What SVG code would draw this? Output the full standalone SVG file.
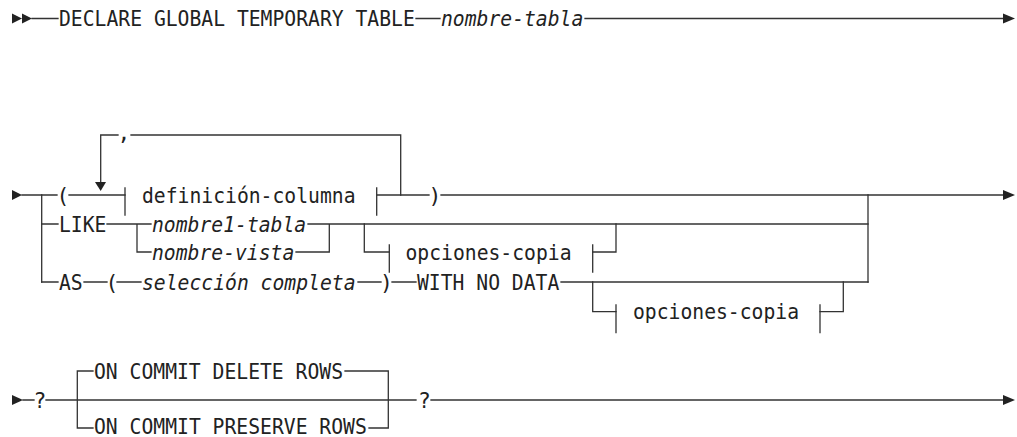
<svg xmlns="http://www.w3.org/2000/svg" width="1017" height="437" viewBox="0 0 1017 437">
<style>
text{font-family:"DejaVu Sans Mono","Liberation Mono",monospace;font-size:21.3px;fill:#222}
.i{font-style:italic}
.c{text-anchor:middle}
.ln{stroke:#333;stroke-width:1.3;fill:none;stroke-linecap:square}
.ah{fill:#222}
</style>
<rect width="1017" height="437" fill="#fff"/>
<g id="connectors" class="ln">
<path d="M32 18.5H58M416 18.5H440M585 18.5H1003"/>
<path d="M22 195H57M69 195H125M377 195H429M441 195H1003"/>
<path d="M41.7 195V282M868 195V282"/>
<path d="M100.7 182V135H118M131 135H400.7V195"/>
<path d="M41.7 224H58M107 224H151M137 224V252H151M296 252H329.3V224M308 224H868"/>
<path d="M364.3 224V252H389.3M592.7 252H616V224"/>
<path d="M41.7 282H58M84 282H107M117 282H141M358 282H381M392 282H416M561 282H868"/>
<path d="M592.7 282V311.7H616M820 311.7H843.3V282"/>
<path d="M23 400H34M46 400H416M431 400H1003"/>
<path d="M77.3 371V428M77.3 371H93M77.3 428H93M345 371H388.3V428M369 428H388.3"/>
</g>
<g id="arrows" class="ah">
<path d="M12 13.5L22 18.5L12 23.5ZM22 13.5L32 18.5L22 23.5Z"/>
<path d="M1003 13.5L1015 18.5L1003 23.5Z"/>
<path d="M12 190L22 195L12 200Z"/>
<path d="M1003 190L1015 195L1003 200Z"/>
<path d="M95 182H106L100.7 191Z"/>
<path d="M12 395L23 400L12 405Z"/>
<path d="M1003 395L1015 400L1003 405Z"/>
</g>
<g id="n-declare"><text x="59" y="26" textLength="355.8" lengthAdjust="spacingAndGlyphs">DECLARE GLOBAL TEMPORARY TABLE</text></g>
<g id="n-nombre-tabla"><text class="i" x="441" y="26" textLength="142.3" lengthAdjust="spacingAndGlyphs">nombre-tabla</text></g>
<g id="n-lparen1"><text class="c" x="63" y="202.5">(</text></g>
<g id="n-defcol" class="ln">
<path d="M125 188V215M376.7 188V215"/>
<text x="142" y="202.5" textLength="213.5" lengthAdjust="spacingAndGlyphs" style="stroke:none">definición-columna</text>
</g>
<g id="n-comma"><text class="c" x="124" y="140">,</text></g>
<g id="n-rparen1"><text class="c" x="435" y="202.5">)</text></g>
<g id="n-like"><text x="59" y="231.5" textLength="47.4" lengthAdjust="spacingAndGlyphs">LIKE</text></g>
<g id="n-nombre1-tabla"><text class="i" x="152" y="231.5" textLength="154.2" lengthAdjust="spacingAndGlyphs">nombre1-tabla</text></g>
<g id="n-nombre-vista"><text class="i" x="152" y="259.5" textLength="142.3" lengthAdjust="spacingAndGlyphs">nombre-vista</text></g>
<g id="n-opciones1" class="ln">
<path d="M389.3 245V272M592.7 245V272"/>
<text x="405.5" y="259.5" textLength="166" lengthAdjust="spacingAndGlyphs" style="stroke:none">opciones-copia</text>
</g>
<g id="n-as"><text x="59" y="289.5" textLength="23.7" lengthAdjust="spacingAndGlyphs">AS</text></g>
<g id="n-lparen2"><text class="c" x="112" y="289.5">(</text></g>
<g id="n-seleccion"><text class="i" x="142" y="289.5" textLength="213.5" lengthAdjust="spacingAndGlyphs">selección completa</text></g>
<g id="n-rparen2"><text class="c" x="386.5" y="289.5">)</text></g>
<g id="n-withnodata"><text x="417" y="289.5" textLength="142.3" lengthAdjust="spacingAndGlyphs">WITH NO DATA</text></g>
<g id="n-opciones2" class="ln">
<path d="M616 305V332.7M820 305V332.7"/>
<text x="633" y="319.2" textLength="166" lengthAdjust="spacingAndGlyphs" style="stroke:none">opciones-copia</text>
</g>
<g id="n-q1"><text class="c" x="40" y="407.5">?</text></g>
<g id="n-delete"><text x="94" y="378.5" textLength="249" lengthAdjust="spacingAndGlyphs">ON COMMIT DELETE ROWS</text></g>
<g id="n-preserve"><text x="94" y="434" textLength="272.8" lengthAdjust="spacingAndGlyphs">ON COMMIT PRESERVE ROWS</text></g>
<g id="n-q2"><text class="c" x="424.5" y="407.5">?</text></g>
</svg>
